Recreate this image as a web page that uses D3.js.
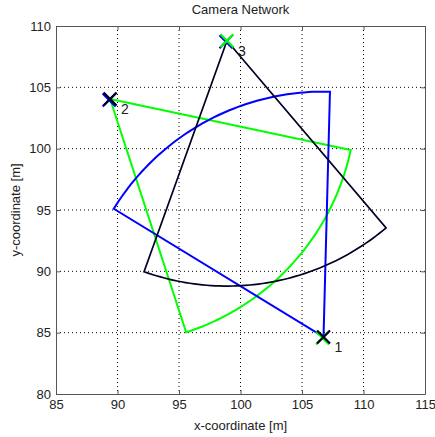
<!DOCTYPE html>
<html>
<head>
<meta charset="utf-8">
<script src="https://cdn.jsdelivr.net/npm/d3@7"></script>
<style>
  body { margin: 0; background: #fff; }
  svg { display: block; font-family: "Liberation Sans", Arial, sans-serif; }
</style>
</head>
<body>
<svg id="chart" width="435" height="437"></svg>
<script>
// ---- data ----
const cameraIds = ["1", "2", "3"];
const cameraX = [106.75, 89.4, 98.9];
const cameraY = [84.65, 104.05, 108.8];
const cameraHeadingDeg = [118.5, -42, -79.7];
const cameraFovDeg = [60, 60, 60];
const cameraRange = [20, 20, 20];
const sectorColors = ["#0000ff", "#00ff00", "#000022"];
const markerUnderColors = ["#00ff00", "#0000ff", "#0000ff"];
const markerTopColors = ["#000022", "#000022", "#00ff00"];
const xTicks = [85, 90, 95, 100, 105, 110, 115];
const yTicks = [80, 85, 90, 95, 100, 105, 110];
const titleText = "Camera Network";
const xLabelText = "x-coordinate [m]";
const yLabelText = "y-coordinate [m]";

// ---- layout ----
const svg = d3.select("#chart");
const L = 56, R = 425, T = 26, B = 394;
const x = d3.scaleLinear().domain([85, 115]).range([L, R]);
const y = d3.scaleLinear().domain([80, 110]).range([B, T]);

// grid
const grid = svg.append("g");
xTicks.slice(1, -1).forEach(t => {
  grid.append("line").attr("x1", x(t)).attr("x2", x(t)).attr("y1", T).attr("y2", B)
    .attr("stroke", "#000").attr("stroke-width", 1).attr("stroke-dasharray", "1,3");
});
yTicks.slice(1, -1).forEach(t => {
  grid.append("line").attr("x1", L).attr("x2", R).attr("y1", y(t)).attr("y2", y(t))
    .attr("stroke", "#000").attr("stroke-width", 1).attr("stroke-dasharray", "1,3");
});

// axes (ticks inward, on all sides)
const tl = 4;
const axB = svg.append("g").attr("transform", `translate(0,${B})`)
  .call(d3.axisBottom(x).tickValues(xTicks).tickSizeInner(-tl).tickSizeOuter(0).tickPadding(6));
const axT = svg.append("g").attr("transform", `translate(0,${T})`)
  .call(d3.axisTop(x).tickValues(xTicks).tickSizeInner(-tl).tickSizeOuter(0).tickFormat(""));
const axL = svg.append("g").attr("transform", `translate(${L},0)`)
  .call(d3.axisLeft(y).tickValues(yTicks).tickSizeInner(-tl).tickSizeOuter(0).tickPadding(5));
const axR = svg.append("g").attr("transform", `translate(${R},0)`)
  .call(d3.axisRight(y).tickValues(yTicks).tickSizeInner(-tl).tickSizeOuter(0).tickFormat(""));
[axB, axT, axL, axR].forEach(a => {
  a.select(".domain").attr("stroke", "#555").attr("stroke-width", 1);
  a.selectAll(".tick line").attr("stroke", "#555");
  a.selectAll(".tick text").attr("fill", "#222").style("font-size", "13px")
    .style("font-family", "'Liberation Sans', Arial, sans-serif");
});

// sectors
svg.append("clipPath").attr("id", "clip")
  .append("rect").attr("x", L).attr("y", T).attr("width", R - L).attr("height", B - T);
const plot = svg.append("g").attr("clip-path", "url(#clip)");
const line = d3.line().x(d => x(d[0])).y(d => y(d[1]));
const drawOrder = [1, 0, 2];
drawOrder.forEach(i => {
  const cx = cameraX[i], cy = cameraY[i], r = cameraRange[i];
  const a0 = (cameraHeadingDeg[i] - cameraFovDeg[i] / 2) * Math.PI / 180;
  const a1 = (cameraHeadingDeg[i] + cameraFovDeg[i] / 2) * Math.PI / 180;
  const pts = [[cx, cy]];
  const n = 60;
  for (let k = 0; k <= n; k++) {
    const a = a0 + (a1 - a0) * k / n;
    pts.push([cx + r * Math.cos(a), cy + r * Math.sin(a)]);
  }
  pts.push([cx, cy]);
  plot.append("path").attr("d", line(pts)).attr("fill", "none")
    .attr("stroke", sectorColors[i])
    .attr("stroke-width", i === 2 ? 1.7 : 2)
    .attr("stroke-linejoin", "miter");
});

// markers
const ms = 6.5;
cameraIds.forEach((id, i) => {
  const px = x(cameraX[i]), py = y(cameraY[i]);
  const drawX = (dx, dy, col) => {
    svg.append("path")
      .attr("d", `M${px + dx - ms},${py + dy - ms}L${px + dx + ms},${py + dy + ms}M${px + dx - ms},${py + dy + ms}L${px + dx + ms},${py + dy - ms}`)
      .attr("stroke", col).attr("stroke-width", 2.2).attr("fill", "none");
  };
  drawX(-1, 1, markerUnderColors[i]);
  drawX(0, 0, markerTopColors[i]);
  svg.append("text").attr("x", px + 11).attr("y", py + 15)
    .attr("fill", "#222").style("font-size", "14px").text(id);
});

// labels
svg.append("text").attr("x", (L + R) / 2).attr("y", 14).attr("text-anchor", "middle")
  .attr("fill", "#222").style("font-size", "13px").text(titleText);
svg.append("text").attr("x", (L + R) / 2).attr("y", 430).attr("text-anchor", "middle")
  .attr("fill", "#222").style("font-size", "13px").text(xLabelText);
svg.append("text").attr("transform", `translate(20,${(T + B) / 2}) rotate(-90)`)
  .attr("text-anchor", "middle").attr("fill", "#222").style("font-size", "13px").text(yLabelText);
</script>
</body>
</html>
